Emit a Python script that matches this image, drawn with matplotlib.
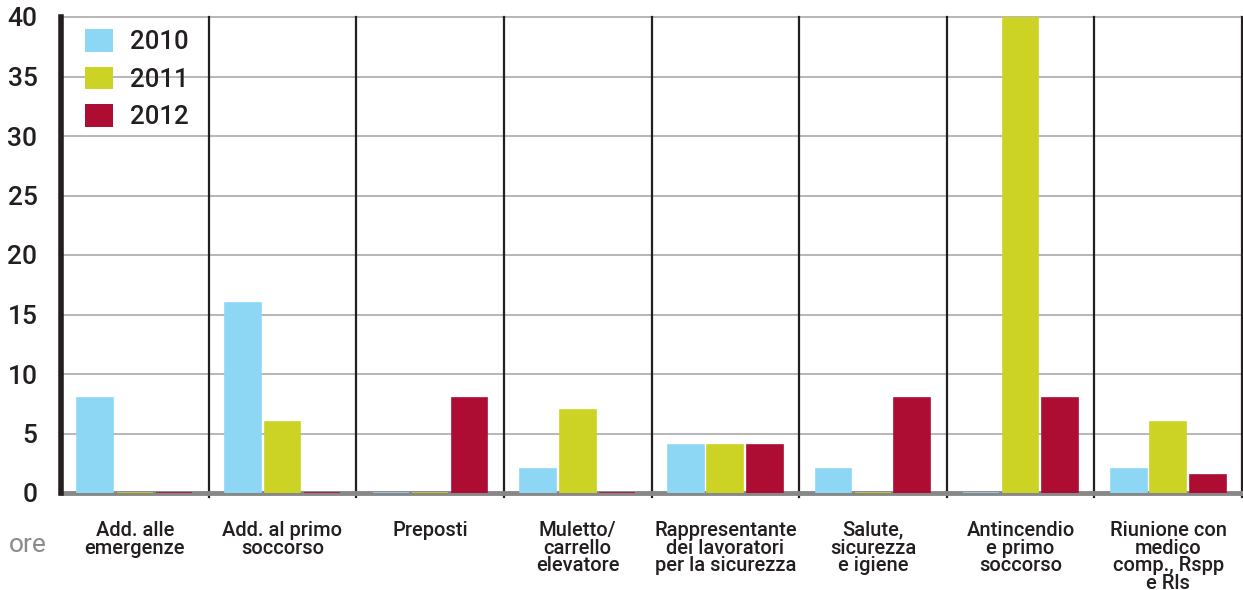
import matplotlib
matplotlib.use("Agg")
import matplotlib.pyplot as plt
import numpy as np
from matplotlib.patches import Patch

plt.rcParams['font.family'] = ['Roboto', 'DejaVu Sans']

categories = [
    "Add. alle\nemergenze",
    "Add. al primo\nsoccorso",
    "Preposti",
    "Muletto/\ncarrello\nelevatore",
    "Rappresentante\ndei lavoratori\nper la sicurezza",
    "Salute,\nsicurezza\ne igiene",
    "Antincendio\ne primo\nsoccorso",
    "Riunione con\nmedico\ncomp., Rspp\ne Rls",
]
years = ["2010", "2011", "2012"]
ore_2010 = [8, 16, 0, 2, 4, 2, 0, 2]
ore_2011 = [0, 6, 0, 7, 4, 0, 40, 6]
ore_2012 = [0, 0, 8, 0, 4, 8, 8, 1.5]
series = [ore_2010, ore_2011, ore_2012]
colors = ["#8dd7f5", "#cdd325", "#ae0d33"]
y_ticks = [0, 5, 10, 15, 20, 25, 30, 35, 40]
text_col = "#231f20"

fig = plt.figure(figsize=(12.43, 5.90), dpi=100)
ax = fig.add_axes([61 / 1243, 1 - 493 / 590, (1242 - 61) / 1243, (493 - 17) / 590])

n = len(categories)
x = np.arange(n) + 0.5
width = 0.243
step = 0.267

for j, (vals, col) in enumerate(zip(series, colors)):
    ax.bar(x + (j - 1) * step, vals, width=width, color=col,
           edgecolor=col, linewidth=1.2, zorder=3)

ax.set_xlim(0, n)
ax.set_ylim(0, 40)
ax.set_yticks(y_ticks)
ax.set_yticklabels([str(t) for t in y_ticks], fontsize=19, color=text_col,
                   fontweight="medium")
ax.tick_params(axis="y", length=0, pad=17)
ax.set_xticks(x)
ax.set_xticklabels(categories, fontsize=14.5, color=text_col, linespacing=0.92,
                   va="top", fontweight="medium")
ax.tick_params(axis="x", length=0, pad=20)

# horizontal grid
for t in y_ticks[1:]:
    ax.axhline(t, color="#a3a3a3", linewidth=1.1, zorder=1, clip_on=False)

# group dividers
for k in range(1, n + 1):
    ax.plot([k, k], [-0.35, 40], color=text_col, linewidth=1.6,
            zorder=2, clip_on=False)

for s in ["top", "right", "bottom"]:
    ax.spines[s].set_visible(False)
ax.spines["left"].set_linewidth(4)
ax.spines["left"].set_color(text_col)
ax.spines["left"].set_zorder(5)

# baseline
ax.axhline(0, color="#888888", linewidth=3.5, zorder=2.5, clip_on=False)

fig.text(9 / 1243, 1 - 545 / 590, "ore", fontsize=19, color="#8a8a8a",
         va="center", ha="left")

handles = [Patch(facecolor=c, edgecolor="none") for c in colors]
ax.legend(handles, years, loc="upper left", bbox_to_anchor=(0.0115, 0.9955),
          frameon=False, handlelength=1.09, handleheight=0.97,
          handletextpad=0.66, labelspacing=0.48, borderaxespad=0,
          prop={"size": 18.5, "weight": "medium"}, labelcolor=text_col)

fig.savefig("out.png", dpi=100, facecolor="white")
